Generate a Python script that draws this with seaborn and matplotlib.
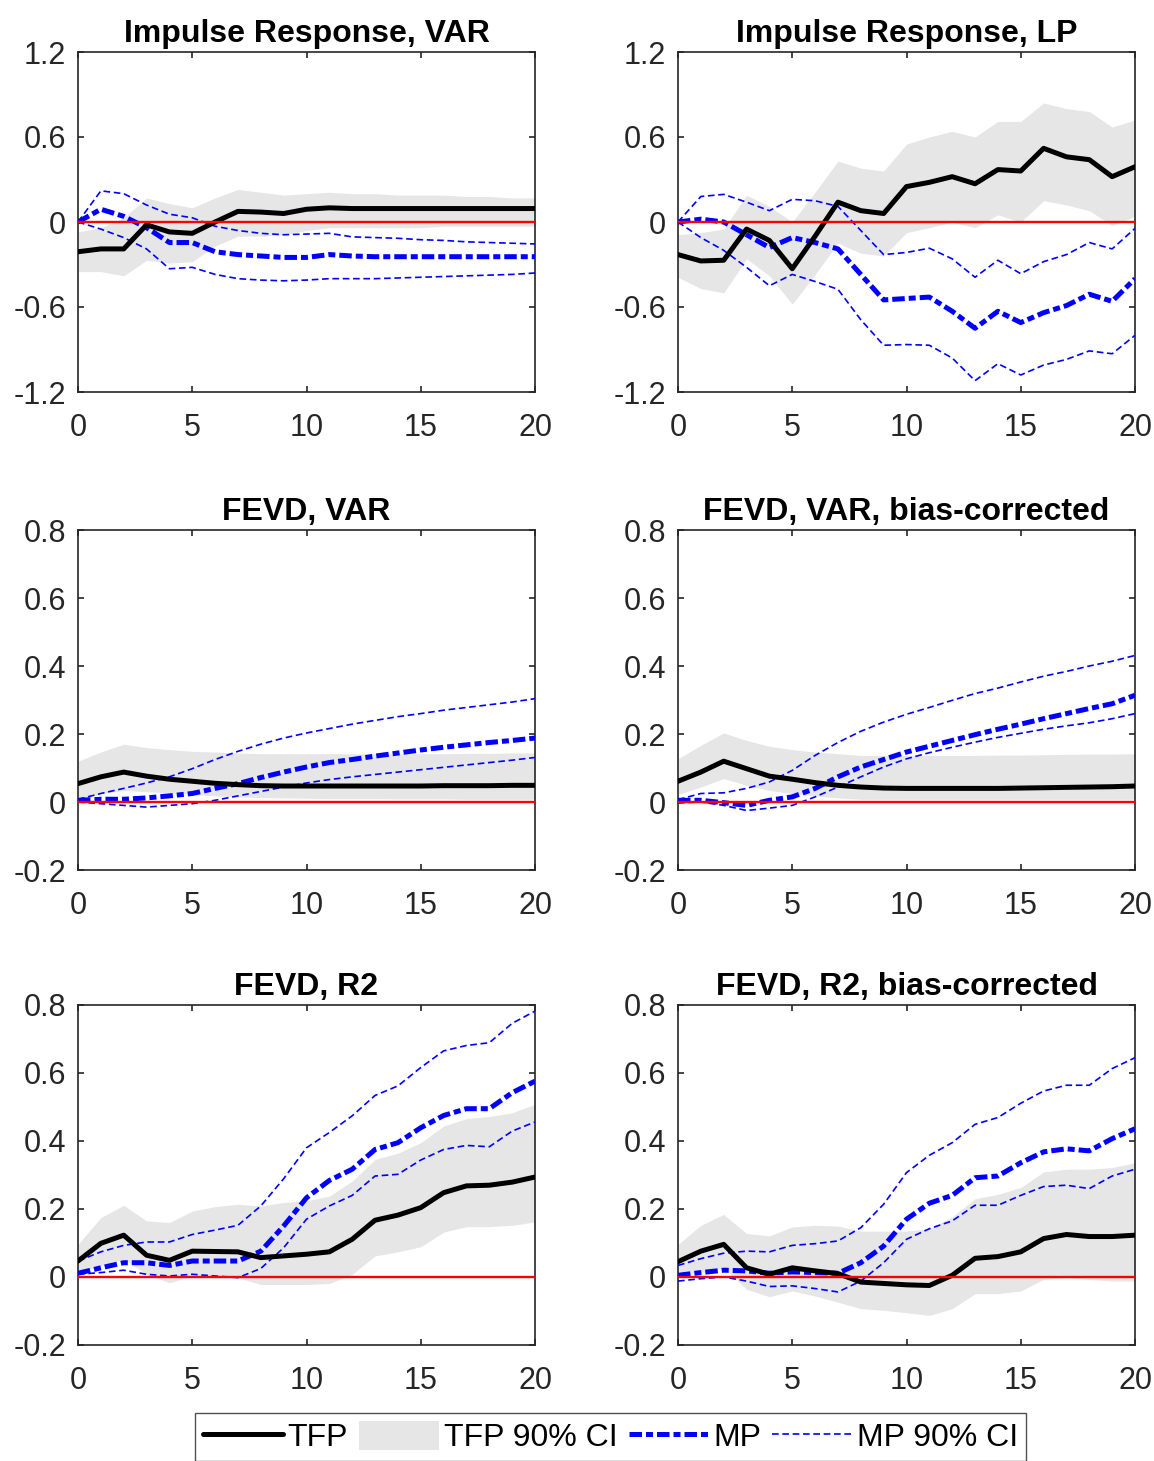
import numpy as np
import pandas as pd
import matplotlib
matplotlib.use("Agg")
import matplotlib.pyplot as plt
import seaborn as sns
from matplotlib.lines import Line2D
from matplotlib.patches import Patch

# Horizons
horizon = list(range(21))

# Impulse Response, VAR
irf_var_tfp = [-0.21, -0.19, -0.19, -0.02, -0.07, -0.08, 0.0, 0.075, 0.07, 0.06, 0.09, 0.10,
               0.095, 0.095, 0.095, 0.095, 0.095, 0.095, 0.095, 0.095, 0.095]
irf_var_tfp_hi = [-0.07, -0.04, 0.03, 0.17, 0.13, 0.10, 0.17, 0.23, 0.21, 0.19, 0.20, 0.21,
                  0.20, 0.20, 0.19, 0.19, 0.19, 0.18, 0.18, 0.17, 0.17]
irf_var_tfp_lo = [-0.35, -0.35, -0.38, -0.27, -0.29, -0.28, -0.17, -0.10, -0.10, -0.09, -0.06, -0.04,
                  -0.04, -0.04, -0.04, -0.04, -0.03, -0.03, -0.03, -0.03, -0.03]
irf_var_mp = [0.0, 0.09, 0.04, -0.04, -0.145, -0.145, -0.21, -0.23, -0.24, -0.25, -0.25, -0.23,
              -0.24, -0.245, -0.245, -0.245, -0.245, -0.245, -0.245, -0.245, -0.245]
irf_var_mp_hi = [0.0, 0.22, 0.20, 0.12, 0.055, 0.03, -0.03, -0.06, -0.08, -0.09, -0.085, -0.08,
                 -0.105, -0.11, -0.115, -0.125, -0.13, -0.14, -0.145, -0.15, -0.155]
irf_var_mp_lo = [0.0, -0.05, -0.11, -0.19, -0.33, -0.32, -0.37, -0.40, -0.41, -0.415, -0.41, -0.40,
                 -0.40, -0.40, -0.395, -0.39, -0.385, -0.38, -0.375, -0.37, -0.36]

# Impulse Response, LP
irf_lp_tfp = [-0.23, -0.275, -0.27, -0.05, -0.13, -0.33, -0.10, 0.14, 0.08, 0.06, 0.25, 0.28,
              0.32, 0.27, 0.37, 0.36, 0.52, 0.46, 0.44, 0.32, 0.39]
irf_lp_tfp_hi = [-0.09, -0.075, -0.05, 0.19, 0.11, 0.0, 0.21, 0.43, 0.38, 0.36, 0.55, 0.60,
                 0.64, 0.60, 0.71, 0.71, 0.84, 0.80, 0.78, 0.67, 0.72]
irf_lp_tfp_lo = [-0.39, -0.47, -0.50, -0.26, -0.38, -0.58, -0.37, -0.15, -0.22, -0.24, -0.075, -0.04,
                 0.0, -0.04, 0.05, 0.0, 0.15, 0.12, 0.08, -0.025, 0.04]
irf_lp_mp = [0.0, 0.02, 0.0, -0.09, -0.18, -0.11, -0.145, -0.19, -0.37, -0.55, -0.54, -0.53,
             -0.63, -0.75, -0.63, -0.71, -0.64, -0.59, -0.51, -0.56, -0.40]
irf_lp_mp_hi = [0.0, 0.18, 0.195, 0.14, 0.08, 0.16, 0.15, 0.11, -0.06, -0.23, -0.215, -0.185,
                -0.26, -0.39, -0.27, -0.365, -0.28, -0.23, -0.145, -0.19, -0.045]
irf_lp_mp_lo = [0.0, -0.11, -0.20, -0.32, -0.45, -0.37, -0.42, -0.475, -0.69, -0.87, -0.865, -0.87,
                -0.96, -1.12, -1.00, -1.08, -1.01, -0.97, -0.91, -0.93, -0.80]

# FEVD, VAR
fevd_var_tfp = [0.054, 0.074, 0.088, 0.076, 0.067, 0.061, 0.055, 0.051, 0.048, 0.047, 0.047, 0.047,
                0.047, 0.047, 0.047, 0.047, 0.048, 0.048, 0.048, 0.049, 0.049]
fevd_var_tfp_hi = [0.12, 0.147, 0.17, 0.16, 0.154, 0.149, 0.147, 0.144, 0.142, 0.142, 0.142, 0.142,
                   0.142, 0.142, 0.142, 0.142, 0.142, 0.143, 0.143, 0.144, 0.144]
fevd_var_tfp_lo = [0.005, 0.025, 0.034, 0.03, 0.027, 0.022, 0.018, 0.015, 0.013, 0.012, 0.011, 0.010,
                   0.010, 0.010, 0.009, 0.009, 0.009, 0.008, 0.008, 0.008, 0.008]
fevd_var_mp = [0.005, 0.008, 0.008, 0.012, 0.018, 0.025, 0.04, 0.054, 0.072, 0.088, 0.103, 0.116,
               0.125, 0.135, 0.144, 0.153, 0.161, 0.168, 0.175, 0.181, 0.188]
fevd_var_mp_hi = [0.008, 0.025, 0.04, 0.056, 0.074, 0.098, 0.125, 0.149, 0.17, 0.188, 0.203, 0.216,
                  0.229, 0.24, 0.251, 0.26, 0.27, 0.278, 0.286, 0.294, 0.304]
fevd_var_mp_lo = [0.0, -0.005, -0.01, -0.015, -0.01, -0.005, 0.005, 0.018, 0.031, 0.044, 0.056, 0.066,
                  0.074, 0.081, 0.088, 0.095, 0.102, 0.109, 0.116, 0.123, 0.131]

# FEVD, VAR, bias-corrected
fevd_varbc_tfp = [0.061, 0.088, 0.12, 0.098, 0.076, 0.067, 0.057, 0.049, 0.044, 0.041, 0.04, 0.04,
                  0.04, 0.04, 0.04, 0.041, 0.042, 0.043, 0.044, 0.045, 0.047]
fevd_varbc_tfp_hi = [0.127, 0.167, 0.203, 0.181, 0.164, 0.154, 0.147, 0.142, 0.137, 0.137, 0.137, 0.137,
                     0.137, 0.137, 0.138, 0.138, 0.139, 0.140, 0.141, 0.141, 0.142]
fevd_varbc_tfp_lo = [0.022, 0.044, 0.069, 0.049, 0.034, 0.025, 0.018, 0.012, 0.008, 0.008, 0.008, 0.008,
                     0.008, 0.008, 0.008, 0.008, 0.008, 0.008, 0.008, 0.008, 0.008]
fevd_varbc_mp = [0.005, 0.005, -0.002, -0.01, 0.005, 0.015, 0.04, 0.074, 0.103, 0.125, 0.147, 0.164,
                 0.181, 0.198, 0.214, 0.229, 0.245, 0.26, 0.275, 0.289, 0.314]
fevd_varbc_mp_hi = [0.007, 0.025, 0.027, 0.04, 0.059, 0.093, 0.137, 0.175, 0.208, 0.235, 0.258, 0.278,
                    0.299, 0.319, 0.335, 0.353, 0.37, 0.384, 0.40, 0.414, 0.431]
fevd_varbc_mp_lo = [-0.003, 0.0, -0.01, -0.025, -0.018, -0.01, 0.015, 0.044, 0.074, 0.103, 0.127, 0.145,
                    0.161, 0.176, 0.19, 0.202, 0.214, 0.224, 0.233, 0.245, 0.26]

# FEVD, R2
fevd_r2_tfp = [0.047, 0.099, 0.123, 0.064, 0.049, 0.076, 0.075, 0.074, 0.057, 0.062, 0.067, 0.074,
               0.111, 0.167, 0.182, 0.204, 0.248, 0.268, 0.27, 0.279, 0.294]
fevd_r2_tfp_hi = [0.096, 0.175, 0.211, 0.165, 0.16, 0.194, 0.207, 0.214, 0.209, 0.219, 0.224, 0.238,
                  0.282, 0.346, 0.364, 0.395, 0.444, 0.466, 0.472, 0.483, 0.508]
fevd_r2_tfp_lo = [0.013, 0.032, 0.052, 0.008, -0.017, 0.003, -0.002, -0.002, -0.022, -0.022, -0.022, -0.019,
                  0.008, 0.062, 0.074, 0.089, 0.132, 0.148, 0.148, 0.152, 0.162]
fevd_r2_mp = [0.011, 0.027, 0.042, 0.042, 0.034, 0.047, 0.047, 0.047, 0.076, 0.15, 0.233, 0.284,
              0.317, 0.375, 0.395, 0.439, 0.475, 0.495, 0.495, 0.542, 0.576]
fevd_r2_mp_hi = [0.047, 0.074, 0.093, 0.103, 0.103, 0.125, 0.138, 0.152, 0.209, 0.289, 0.38, 0.425,
                 0.474, 0.534, 0.562, 0.616, 0.665, 0.681, 0.689, 0.746, 0.782]
fevd_r2_mp_lo = [0.008, 0.013, 0.02, 0.008, 0.003, 0.008, 0.003, -0.002, 0.025, 0.086, 0.17, 0.209,
                 0.24, 0.297, 0.302, 0.344, 0.375, 0.387, 0.383, 0.429, 0.456]

# FEVD, R2, bias-corrected
fevd_r2bc_tfp = [0.045, 0.076, 0.096, 0.027, 0.008, 0.027, 0.018, 0.01, -0.015, -0.019, -0.023, -0.025,
                 0.005, 0.055, 0.06, 0.074, 0.113, 0.125, 0.119, 0.119, 0.123]
fevd_r2bc_tfp_hi = [0.096, 0.152, 0.184, 0.128, 0.121, 0.147, 0.152, 0.15, 0.135, 0.135, 0.135, 0.142,
                    0.177, 0.23, 0.243, 0.263, 0.309, 0.317, 0.317, 0.322, 0.336]
fevd_r2bc_tfp_lo = [0.003, 0.013, 0.027, -0.036, -0.058, -0.041, -0.056, -0.074, -0.093, -0.098, -0.105, -0.113,
                    -0.093, -0.049, -0.049, -0.041, -0.007, -0.002, -0.007, -0.012, -0.012]
fevd_r2bc_mp = [0.005, 0.013, 0.02, 0.018, 0.011, 0.015, 0.013, 0.011, 0.042, 0.091, 0.17, 0.217,
                0.24, 0.292, 0.297, 0.336, 0.368, 0.377, 0.371, 0.407, 0.436]
fevd_r2bc_mp_hi = [0.034, 0.054, 0.07, 0.076, 0.074, 0.093, 0.098, 0.106, 0.145, 0.214, 0.307, 0.358,
                   0.395, 0.449, 0.469, 0.511, 0.547, 0.564, 0.564, 0.613, 0.645]
fevd_r2bc_mp_lo = [-0.012, -0.005, 0.0, -0.012, -0.028, -0.026, -0.034, -0.044, -0.012, 0.042, 0.111, 0.142,
                   0.165, 0.211, 0.211, 0.24, 0.266, 0.27, 0.26, 0.297, 0.317]

titles = ["Impulse Response, VAR", "Impulse Response, LP",
          "FEVD, VAR", "FEVD, VAR, bias-corrected",
          "FEVD, R2", "FEVD, R2, bias-corrected"]

panels = [
    (irf_var_tfp, irf_var_tfp_lo, irf_var_tfp_hi, irf_var_mp, irf_var_mp_lo, irf_var_mp_hi),
    (irf_lp_tfp, irf_lp_tfp_lo, irf_lp_tfp_hi, irf_lp_mp, irf_lp_mp_lo, irf_lp_mp_hi),
    (fevd_var_tfp, fevd_var_tfp_lo, fevd_var_tfp_hi, fevd_var_mp, fevd_var_mp_lo, fevd_var_mp_hi),
    (fevd_varbc_tfp, fevd_varbc_tfp_lo, fevd_varbc_tfp_hi, fevd_varbc_mp, fevd_varbc_mp_lo, fevd_varbc_mp_hi),
    (fevd_r2_tfp, fevd_r2_tfp_lo, fevd_r2_tfp_hi, fevd_r2_mp, fevd_r2_mp_lo, fevd_r2_mp_hi),
    (fevd_r2bc_tfp, fevd_r2bc_tfp_lo, fevd_r2bc_tfp_hi, fevd_r2bc_mp, fevd_r2bc_mp_lo, fevd_r2bc_mp_hi),
]

irf_yticks = [-1.2, -0.6, 0, 0.6, 1.2]
irf_yticklabels = ["-1.2", "-0.6", "0", "0.6", "1.2"]
fevd_yticks = [-0.2, 0, 0.2, 0.4, 0.6, 0.8]
fevd_yticklabels = ["-0.2", "0", "0.2", "0.4", "0.6", "0.8"]
xticks = [0, 5, 10, 15, 20]

sns.set_theme(style="white")
plt.rcParams["font.family"] = ["Liberation Sans", "DejaVu Sans"]

band_color = (0.9, 0.9, 0.9)
mp_style = (0, (2.5, 0.8, 1.4, 0.8))
ci_style = (0, (4.0, 2.2))

fig = plt.figure(figsize=(11.54, 14.61), dpi=100)

# axes positions in figure fractions (left, bottom, width, height)
col_left = [78 / 1154, 678 / 1154]
row_bottom = [1 - 392 / 1461, 1 - 870 / 1461, 1 - 1345 / 1461]
ax_w = 457 / 1154
ax_h = 340 / 1461

for i, (title, data) in enumerate(zip(titles, panels)):
    tfp, tfp_lo, tfp_hi, mp, mp_lo, mp_hi = data
    ax = fig.add_axes([col_left[i % 2], row_bottom[i // 2], ax_w, ax_h])

    # TFP confidence band
    ax.fill_between(horizon, tfp_lo, tfp_hi, color=band_color, lw=0, zorder=1)

    df = pd.DataFrame({"h": horizon, "tfp": tfp, "mp": mp, "mp_lo": mp_lo, "mp_hi": mp_hi})

    sns.lineplot(data=df, x="h", y="mp_hi", ax=ax, color="blue", lw=1.2, linestyle=ci_style, zorder=3)
    sns.lineplot(data=df, x="h", y="mp_lo", ax=ax, color="blue", lw=1.2, linestyle=ci_style, zorder=3)
    sns.lineplot(data=df, x="h", y="mp", ax=ax, color="blue", lw=3.6, linestyle=mp_style, zorder=4)
    sns.lineplot(data=df, x="h", y="tfp", ax=ax, color="black", lw=3.6, zorder=5)

    # zero line
    ax.axhline(0, color="red", lw=1.7, zorder=6)

    ax.set_xlim(0, 20)
    ax.set_xticks(xticks)
    ax.set_xticklabels([str(t) for t in xticks])
    if i < 2:
        ax.set_ylim(-1.2, 1.2)
        ax.set_yticks(irf_yticks)
        ax.set_yticklabels(irf_yticklabels)
    else:
        ax.set_ylim(-0.2, 0.8)
        ax.set_yticks(fevd_yticks)
        ax.set_yticklabels(fevd_yticklabels)

    ax.set_xlabel("")
    ax.set_ylabel("")
    ax.set_title(title, fontsize=23, fontweight="bold", color="black", pad=7)

    for s in ax.spines.values():
        s.set_visible(True)
        s.set_color("0.15")
        s.set_linewidth(1.2)
    ax.tick_params(axis="both", which="major", direction="in", length=4.5, width=1.2,
                   color="0.15", labelsize=22, labelcolor="0.15",
                   top=True, right=True, bottom=True, left=True)
    ax.tick_params(axis="x", pad=15)
    ax.tick_params(axis="y", pad=8.5)

# Legend
handles = [
    Line2D([0], [0], color="black", lw=3.6),
    Patch(facecolor=band_color, edgecolor="none"),
    Line2D([0], [0], color="blue", lw=3.6, linestyle=mp_style),
    Line2D([0], [0], color="blue", lw=1.2, linestyle=ci_style),
]
labels = ["TFP", "TFP 90% CI", "MP", "MP 90% CI"]
leg = fig.legend(handles, labels, loc="upper center", bbox_to_anchor=(0.529, 1 - 1413 / 1461), ncol=4,
                 frameon=True, fancybox=False, handlelength=2.5, handleheight=1.0,
                 handletextpad=0.15, columnspacing=0.35, borderpad=0.25, borderaxespad=0,
                 prop={"family": "Liberation Sans", "size": 23})
leg.get_frame().set_edgecolor("0.15")
leg.get_frame().set_linewidth(1.0)
for t in leg.get_texts():
    t.set_color("black")

fig.savefig("out.png", dpi=100, facecolor="white")
